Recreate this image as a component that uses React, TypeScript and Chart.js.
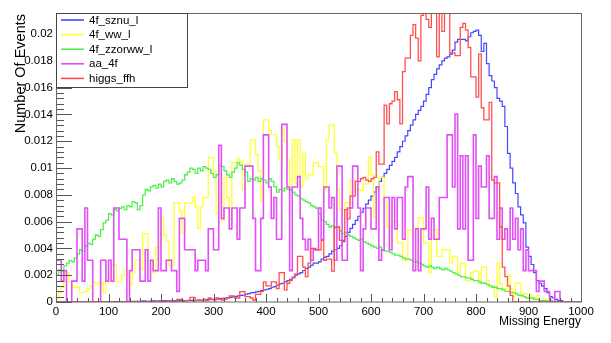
import React, { useEffect, useRef } from "react";
import { Chart, registerables } from "chart.js";

Chart.register(...registerables);

// Histogram binning: 200 bins of width 5 over [0, 1000]
const BIN_WIDTH = 5;
const X_MIN = 0;
const X_MAX = 1000;
const Y_MAX = 0.0215;
const UNIT = 1e-4; // series values are in units of 1e-4
const AA_QUANTUM = 7.8e-4; // aa_4f values are counts of this weight

const xTickValues = [0, 100, 200, 300, 400, 500, 600, 700, 800, 900, 1000];
const xTickLabels = ["0", "100", "200", "300", "400", "500", "600", "700", "800", "900", "1000"];
const yTickValues = [0, 0.002, 0.004, 0.006, 0.008, 0.01, 0.012, 0.014, 0.016, 0.018, 0.02];
const yTickLabels = ["0", "0.002", "0.004", "0.006", "0.008", "0.01", "0.012", "0.014", "0.016", "0.018", "0.02"];

const seriesNames = ["4f_sznu_l", "4f_ww_l", "4f_zzorww_l", "aa_4f", "higgs_ffh"];

const sznu = [
  0,0,0,0,0,0,0,0,0,0,
  0,0,0,0,0,0,0,0,0.3,0,
  0.3,0.3,0,0.3,0.3,0.3,0,0.3,0.3,0.5,
  0.5,0.5,0.3,0.5,0.8,0.5,0.5,0.8,0.8,0.5,
  0.8,0.8,1,0.8,0.8,1,1,0.8,1,1,
  1,1.2,1.2,1,1.3,1.5,1.3,1.5,1.8,1.8,
  2,2,2.3,2.5,2.8,3,3.2,3.5,3.8,4,
  4.5,5,5.2,5.8,6.2,6.8,7,7.5,8,8.5,
  9,9.5,10,11,11.5,12.5,13.5,14,15,16,
  17,18.5,20,21,22,23.5,25,26,27.5,29,
  29,30,32,33.5,34,36,38,39,40,42,
  45,49,52,55,58,61,64,67,70,73,
  76,79,82,86,90,93,96,99,102,105,
  108,112,116,120,124,128,132,136,140,143,
  146,150,155,160,166,170,174,177,180,182,
  183,185,188,194,196,196,196,195,198,201,
  202,203,199,187,193,178,169,165,160,152,
  150,146,131,111,100,89,81,71,65,59,
  41,34,28,22,16,14,12,10,7,4,
  3,2,1,1,0,0,0,0,0,0,
];

const ww = [
  4,3,7,11,22,22,15,11,11,11,
  7,7,8,10,12,15,13,15,14,7,
  15,19,28,28,15,15,20,24,18,13,
  22,31,31,24,51,51,31,31,22,41,
  41,63,50,45,27,27,74,74,68,51,
  74,74,74,78,71,55,71,78,78,108,
  108,98,66,80,61,93,78,62,104,104,
  107,105,84,103,103,121,121,110,98,75,
  136,136,128,125,125,116,106,129,120,106,
  82,121,89,121,86,111,92,95,95,104,
  104,101,101,84,121,132,132,111,84,69,
  69,74,74,91,91,84,84,83,88,88,
  108,95,63,84,93,93,75,56,44,60,
  60,44,44,31,31,54,54,49,49,63,
  63,44,44,22,54,54,34,34,39,39,
  39,29,34,34,22,29,29,16,16,22,
  23,23,14,26,26,16,12,12,4,29,
  14,10,10,20,10,4,14,14,4,6,
  6,6,3,3,5,1,1,2,0,1,
  0,0,0,0,0,0,0,0,0,0,
];

const zzorww = [
  18,20,24,23,27,29,31,30,33,36,
  39,38,42,44,43,47,50,49,54,59,
  61,66,65,69,68,70,71,69,72,71,
  75,74,69,72,80,84,83,86,87,85,
  88,86,90,91,89,92,90,88,89,91,
  95,97,100,99,96,100,98,101,100,99,
  96,93,95,102,101,98,95,93,97,100,
  104,102,99,97,90,92,91,93,90,92,
  91,89,92,90,86,82,84,83,85,84,
  84,82,80,79,77,76,75,74,72,71,
  70,66,61,60,58,56,57,55,56,53,
  51,52,50,49,48,47,46,47,45,44,
  43,42,41,40,41,39,38,38,37,36,
  35,35,34,33,32,32,31,30,30,29,
  28,27,26,27,26,25,26,25,24,25,
  24,23,22,21,20,19,19,18,18,17,
  16,16,15,14,14,13,12,11,11,10,
  10,9,8,8,7,7,6,5,5,4,
  3,3,3,2,2,1,1,1,0,1,
  0,0,0,0,0,0,0,0,0,0,
];

const aa4f = [
  4,4,4,2,3,0,0,2,2,7,
  7,2,9,4,4,0,0,0,4,4,
  2,4,2,9,9,6,6,6,0,3,
  5,5,5,2,2,5,2,4,3,3,
  9,3,3,4,4,3,3,1,8,8,
  5,5,5,5,3,4,4,4,3,7,
  7,5,5,15,8,9,9,7,9,9,
  6,9,9,13,13,13,8,3,3,8,
  16,16,11,8,10,6,6,17,17,11,
  3,11,11,12,8,6,5,6,4,5,
  5,9,6,11,11,9,10,4,13,13,
  4,4,9,9,13,13,9,3,7,9,
  9,7,7,11,4,5,10,10,5,10,
  7,10,10,6,11,12,12,3,7,3,
  7,7,11,6,8,6,6,10,10,10,
  16,16,11,18,7,14,7,14,4,4,
  16,8,13,11,11,14,8,8,12,6,
  9,6,7,5,9,6,8,5,7,3,
  5,3,3,3,1,2,2,1,1,0,
  0,1,1,0,0,0,0,0,0,0,
];

const ffh = [
  0,0,0,0,0,0,0,0,0,0,
  0,0,0,0,0,0,0,0,0,0,
  0,0,0,0,0,0,0,0,0,0,
  0,0,0.5,0,0,0.5,0,0.5,0,0.5,
  0,0.5,0.5,0,0.5,1,0.5,2,2,0.5,
  1,1,3.5,3.5,1,1.5,1,2,1,3,
  2,1.5,3,2,1.5,2,3,4.5,4.5,3,
  3,7.7,7.7,4,4,3,1.5,5.7,5.7,8,
  15,12,12,15,15,10,22,22,9,14,
  16,18,21,34,34,26,19,29,40,40,
  39,39,46,31,32,32,23,56,56,46,
  46,69,62,79,79,90,90,92,93,91,
  90,92,93,112,103,103,147,133,148,150,
  157,151,133,172,182,182,199,207,197,180,
  214,230,211,205,230,230,183,230,202,230,
  230,186,186,184,184,205,208,203,190,168,
  168,153,185,145,136,136,149,91,89,89,
  56,26,19,12,5,0,0,0,0,0,
  0,0,0,0,0,0,0,0,0,0,
  0,0,0,0,0,0,0,0,0,0,
];

const seriesColors = ["rgb(70,70,255)", "rgb(255,255,50)", "rgb(80,240,80)", "rgb(225,80,245)", "rgb(255,80,80)"];
const seriesWidths = [1.2, 1.3, 1.3, 1.6, 1.3];
const FONT = '"Liberation Sans", Arial, Helvetica, sans-serif';

function toPoints(vals: number[], scale: number) {
  const pts = vals.map((v, i) => ({ x: X_MIN + i * BIN_WIDTH, y: v * scale }));
  pts.push({ x: X_MAX, y: vals[vals.length - 1] * scale });
  return pts;
}

const framePlugin = {
  id: "rootFrame",
  afterDraw(chart: any) {
    const { ctx, chartArea, scales } = chart;
    const { left, right, top, bottom } = chartArea;
    const xs = scales.x;
    const ys = scales.y;
    ctx.save();
    ctx.strokeStyle = "#555";
    ctx.lineWidth = 1;
    // x ticks (inside)
    for (let v = X_MIN; v <= X_MAX + 1e-9; v += 20) {
      const px = Math.round(xs.getPixelForValue(v)) + 0.5;
      const len = Math.abs(v % 100) < 1e-9 ? 8 : 4;
      ctx.beginPath();
      ctx.moveTo(px, bottom);
      ctx.lineTo(px, bottom - len);
      ctx.stroke();
    }
    // y ticks (inside)
    for (let k = 0; k * 0.0004 <= Y_MAX + 1e-12; k++) {
      const py = Math.round(ys.getPixelForValue(k * 0.0004)) + 0.5;
      const len = k % 5 === 0 ? 16 : 8;
      ctx.beginPath();
      ctx.moveTo(left, py);
      ctx.lineTo(left + len, py);
      ctx.stroke();
    }
    // frame
    ctx.strokeStyle = "#666";
    ctx.strokeRect(Math.round(left) + 0.5, Math.round(top) - 0.5, Math.round(right - left), Math.round(bottom - top) + 0.5);
    // legend
    const lx = 56, ly = 13, lw = 131, lh = 74;
    ctx.fillStyle = "#fff";
    ctx.fillRect(lx, ly, lw, lh);
    ctx.strokeStyle = "#444";
    ctx.strokeRect(lx + 0.5, ly + 0.5, lw, lh);
    ctx.font = `11.5px ${FONT}`;
    ctx.textBaseline = "middle";
    ctx.textAlign = "left";
    seriesNames.forEach((name, i) => {
      const yy = 20 + i * 14.6;
      ctx.strokeStyle = seriesColors[i];
      ctx.lineWidth = 1.6;
      ctx.beginPath();
      ctx.moveTo(61, yy);
      ctx.lineTo(84, yy);
      ctx.stroke();
      ctx.fillStyle = "#000";
      ctx.fillText(name, 89, yy + 0.5);
    });
    ctx.restore();
  },
};

export default function App() {
  const ref = useRef<HTMLCanvasElement>(null);
  useEffect(() => {
    const canvas = ref.current;
    if (!canvas) return;
    const raw = [sznu, ww, zzorww, aa4f, ffh];
    const scales = [UNIT, UNIT, UNIT, AA_QUANTUM, UNIT];
    const datasets = raw.map((vals, i) => ({
      label: seriesNames[i],
      data: toPoints(vals, scales[i]),
      borderColor: seriesColors[i],
      backgroundColor: seriesColors[i],
      borderWidth: seriesWidths[i],
      stepped: "after" as const,
      pointRadius: 0,
      fill: false,
      order: 5 - i,
    }));
    const chart = new Chart(canvas, {
      type: "line",
      data: { datasets },
      options: {
        animation: false,
        responsive: false,
        maintainAspectRatio: false,
        devicePixelRatio: 1,
        layout: { padding: { top: 14, right: 30, left: 0, bottom: 0 } },
        plugins: { legend: { display: false }, tooltip: { enabled: false } },
        elements: { point: { radius: 0 }, line: { tension: 0 } },
        scales: {
          x: {
            type: "linear",
            min: X_MIN,
            max: X_MAX,
            afterFit: (s: any) => { s.height = 41; },
            afterBuildTicks: (s: any) => { s.ticks = xTickValues.map((v) => ({ value: v })); },
            grid: { display: false, drawTicks: false },
            border: { display: false },
            ticks: {
              padding: 3,
              color: "#000",
              autoSkip: false,
              maxRotation: 0,
              font: { family: FONT, size: 11.5 },
              callback: (v: any) => xTickLabels[xTickValues.indexOf(Number(v))] ?? "",
            },
            title: {
              display: true,
              text: "Missing Energy",
              align: "end",
              color: "#000",
              font: { family: FONT, size: 12 },
              padding: { top: 0, bottom: 14 },
            },
          },
          y: {
            type: "linear",
            min: 0,
            max: Y_MAX,
            afterFit: (s: any) => { s.width = 56; },
            afterBuildTicks: (s: any) => { s.ticks = yTickValues.map((v) => ({ value: v })); },
            grid: { display: false, drawTicks: false },
            border: { display: false },
            ticks: {
              padding: 3,
              color: "#000",
              autoSkip: false,
              font: { family: FONT, size: 11.5 },
              callback: (v: any) => {
                const idx = yTickValues.findIndex((t) => Math.abs(t - Number(v)) < 1e-9);
                return idx >= 0 ? yTickLabels[idx] : "";
              },
            },
            title: {
              display: true,
              text: "Number Of Events",
              align: "end",
              color: "#000",
              font: { family: FONT, size: 14.5 },
              padding: { top: 12, bottom: 0 },
            },
          },
        },
      },
      plugins: [framePlugin],
    });
    return () => chart.destroy();
  }, []);
  return (
    <div style={{ position: "absolute", left: 0, top: 0, width: 611, height: 343, background: "#fff" }}>
      <canvas ref={ref} width={611} height={343} style={{ width: 611, height: 343, display: "block" }} />
    </div>
  );
}
